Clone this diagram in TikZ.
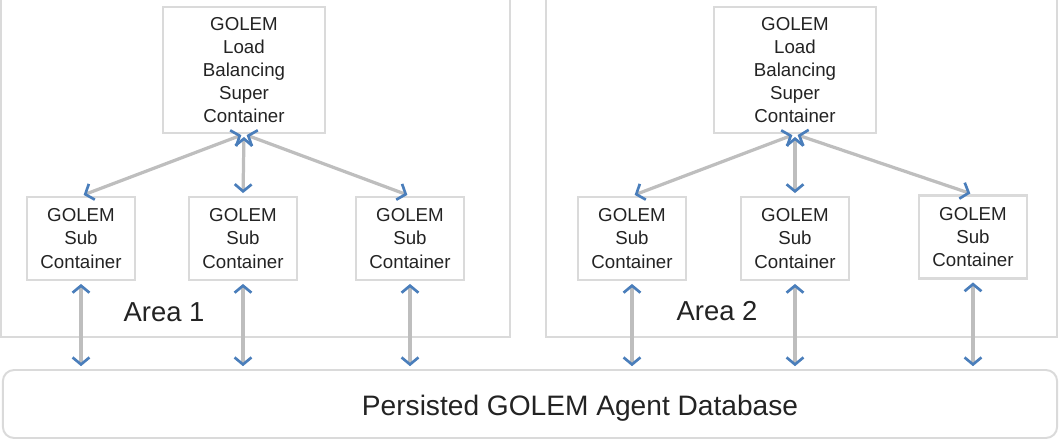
\documentclass[tikz,border=0pt]{standalone}
\usepackage{fontspec}
\setmainfont{Liberation Sans}
\usetikzlibrary{arrows.meta}

\definecolor{boxgray}{RGB}{218,218,218}
\definecolor{linkgray}{RGB}{190,190,190}
\definecolor{tipblue}{RGB}{74,126,187}
\definecolor{textgray}{RGB}{35,35,35}

\tikzset{
  area/.style={draw=boxgray, line width=1.4pt},
  container/.style={draw=boxgray, line width=1.6pt, align=center, inner sep=0pt,
    text=textgray, font=\fontsize{13.3}{16.4}\selectfont},
  superbox/.style={container, minimum width=4.05cm, minimum height=3.15cm},
  subbox/.style={container, minimum width=2.7cm, minimum height=2.075cm},
  link/.style={<->, draw=linkgray, line width=2.3pt, shorten <=2pt, shorten >=2pt},
  arealabel/.style={text=textgray, font=\fontsize{19.5}{23}\selectfont},
}

\begin{document}
\begin{tikzpicture}[x=0.025cm, y=-0.025cm,
    >={Straight Barb[length=5pt, width=12pt, line width=1.9pt, color=tipblue]}]
    \useasboundingbox (0,0) rectangle (1061,440);

    % areas
    \draw[area] (1,-10) rectangle (510,337);
    \draw[area] (546,-10) rectangle (1057,337);
    \node[arealabel] (area1) at (164,312) {Area 1};
    \node[arealabel] (area2) at (717,311) {Area 2};

    % database
    \node[draw=boxgray, line width=1.4pt, rounded corners=8pt,
      minimum width=26.35cm, minimum height=1.7cm] (db) at (530,404) {};
    \node[text=textgray, font=\fontsize{20}{24}\selectfont] (dblabel) at (580,408) {Persisted GOLEM Agent Database};

    % super containers
    \node[superbox] (sup1) at (244,70) {GOLEM\\Load\\Balancing\\Super\\Container};
    \node[superbox] (sup2) at (795,70) {GOLEM\\Load\\Balancing\\Super\\Container};

    % sub containers
    \node[subbox] (sub11) at (81,238.5) {GOLEM\\Sub\\Container};
    \node[subbox] (sub12) at (243,238.5) {GOLEM\\Sub\\Container};
    \node[subbox] (sub13) at (410,238.5) {GOLEM\\Sub\\Container};
    \node[subbox] (sub21) at (632,238.5) {GOLEM\\Sub\\Container};
    \node[subbox] (sub22) at (795,238.5) {GOLEM\\Sub\\Container};
    \node[subbox] (sub23) at (973,237) {GOLEM\\Sub\\Container};

    % super to sub
    \draw[link] (sup1.south) -- (sub11.north);
    \draw[link] (sup1.south) -- (sub12.north);
    \draw[link] (sup1.south) -- (sub13.north);
    \draw[link] (sup2.south) -- (sub21.north);
    \draw[link] (sup2.south) -- (sub22.north);
    \draw[link] (sup2.south) -- (sub23.north);

    % sub to database
    \foreach \s in {sub11,sub12,sub13,sub21,sub22,sub23}
      \draw[link] (\s.south) -- (\s.south |- db.north);
\end{tikzpicture}
\end{document}
